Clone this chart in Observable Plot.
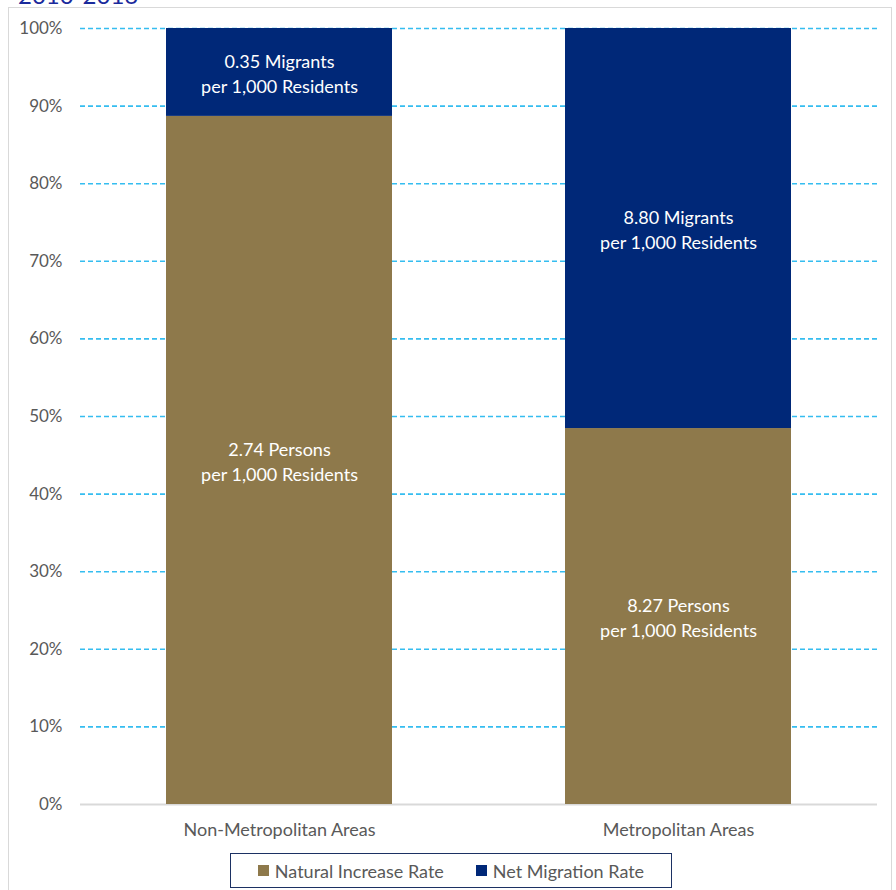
<!DOCTYPE html>
<html>
<head>
<meta charset="utf-8">
<script src="https://cdn.jsdelivr.net/npm/d3@7"></script>
<script src="https://cdn.jsdelivr.net/npm/@observablehq/plot@0.6"></script>
<style>
  html, body { margin: 0; padding: 0; background: #fff; width: 896px; height: 890px; overflow: hidden; }
  body { position: relative; font-family: Lato, "Open Sans", sans-serif; }
  #title { position: absolute; left: 18px; top: -20px; font-size: 24px; color: #1a2a9c; white-space: nowrap; }
  #frame { position: absolute; left: 8px; top: 7px; width: 884px; height: 900px; border: 1px solid #d9d9d9; box-sizing: border-box; }
  #chart { position: absolute; left: 0; top: 0; }
  #legend { position: absolute; left: 230px; top: 853px; width: 442px; height: 35px; box-sizing: border-box;
            border: 1.5px solid #1c3163; display: flex; align-items: center; justify-content: center; gap: 32px;
            font-size: 18px; color: #595959; }
  .item { display: flex; align-items: center; gap: 6px; }
  .sw { width: 11px; height: 11px; display: inline-block; }
</style>
</head>
<body>
<div id="title">2010-2016</div>
<div id="frame"></div>
<div id="chart"></div>
<div id="legend"></div>
<script>
const categories = ["Non-Metropolitan Areas", "Metropolitan Areas"];
const series = ["Natural Increase Rate", "Net Migration Rate"];
const seriesColors = ["#8e794b", "#002878"];
const naturalIncrease = [2.74, 8.27];
const netMigration = [0.35, 8.80];
const naturalLabels = ["2.74 Persons\nper 1,000 Residents", "8.27 Persons\nper 1,000 Residents"];
const migrationLabels = ["0.35 Migrants\nper 1,000 Residents", "8.80 Migrants\nper 1,000 Residents"];
const yTicks = [0, 0.1, 0.2, 0.3, 0.4, 0.5, 0.6, 0.7, 0.8, 0.9, 1.0];
const gridTicks = yTicks.filter(d => d > 0);

const data = [];
categories.forEach((c, i) => {
  data.push({area: c, series: series[0], value: naturalIncrease[i], label: naturalLabels[i]});
  data.push({area: c, series: series[1], value: netMigration[i], label: migrationLabels[i]});
});

const chart = Plot.plot({
  width: 896,
  height: 845,
  marginLeft: 80,
  marginRight: 19,
  marginTop: 28,
  marginBottom: 41,
  style: {fontFamily: "Lato, 'Open Sans', sans-serif", fontSize: "17px", color: "#595959", background: "transparent"},
  x: {domain: categories, paddingInner: 0.4325, paddingOuter: 0.214, label: null},
  y: {domain: [0, 1], label: null},
  color: {domain: series, range: seriesColors},
  marks: [
    Plot.ruleY(gridTicks, {stroke: "#35bdf0", strokeWidth: 1.6, strokeDasharray: "5,3"}),
    Plot.ruleY([0], {stroke: "#d9d9d9", strokeWidth: 2}),
    Plot.barY(data, Plot.stackY({offset: "normalize", x: "area", y: "value", fill: "series"})),
    Plot.text(data, Plot.stackY({offset: "normalize", x: "area", y: "value", z: "series", text: "label",
      fill: "white", fontSize: 18, lineHeight: 1.4})),
    Plot.axisY({ticks: yTicks, tickFormat: d3.format(".0%"), tickSize: 0, tickPadding: 18, fontSize: 17, label: null}),
    Plot.axisX({tickSize: 0, tickPadding: 19, fontSize: 18, label: null})
  ]
});
document.getElementById("chart").appendChild(chart);

const legend = document.getElementById("legend");
series.forEach((s, i) => {
  const item = document.createElement("div");
  item.className = "item";
  const sw = document.createElement("span");
  sw.className = "sw";
  sw.style.background = seriesColors[i];
  const t = document.createElement("span");
  t.textContent = s;
  item.appendChild(sw);
  item.appendChild(t);
  legend.appendChild(item);
});
</script>
</body>
</html>
